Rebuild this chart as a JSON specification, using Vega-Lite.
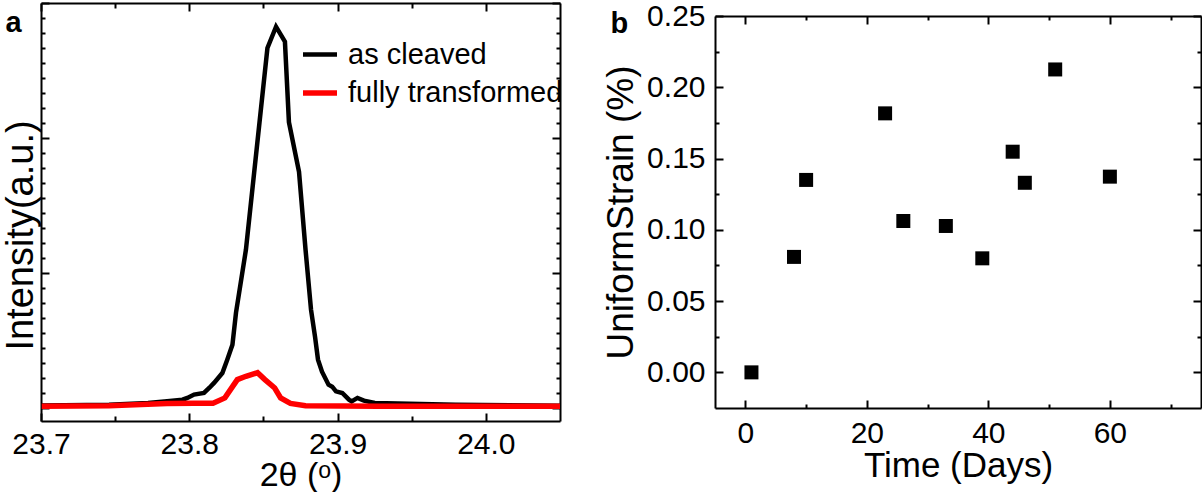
{
  "$schema": "https://vega.github.io/schema/vega-lite/v6.json",
  "padding": {"left": 2, "top": 1, "right": 0, "bottom": 0},
  "autosize": {"type": "pad"},
  "background": "white",
  "config": {
    "view": {"stroke": null},
    "font": "Liberation Sans",
    "concat": {"spacing": 39},
    "axis": {
      "domainColor": "black", "domainWidth": 2, "tickColor": "black", "tickWidth": 2,
      "labelColor": "black", "titleColor": "black", "labelFont": "Liberation Sans", "titleFont": "Liberation Sans",
      "titleFontWeight": "normal", "grid": false, "labelFlush": false, "labelOverlap": false, "labelBound": false
    }
  },
  "datasets": {
    "xrd": [
      {"theta": 23.7005, "intensity": 17, "sample": "as cleaved"},
      {"theta": 23.7459, "intensity": 22, "sample": "as cleaved"},
      {"theta": 23.7722, "intensity": 33, "sample": "as cleaved"},
      {"theta": 23.785, "intensity": 44, "sample": "as cleaved"},
      {"theta": 23.7954, "intensity": 55, "sample": "as cleaved"},
      {"theta": 23.7987, "intensity": 67, "sample": "as cleaved"},
      {"theta": 23.8032, "intensity": 89, "sample": "as cleaved"},
      {"theta": 23.8099, "intensity": 100, "sample": "as cleaved"},
      {"theta": 23.8136, "intensity": 135, "sample": "as cleaved"},
      {"theta": 23.8167, "intensity": 167, "sample": "as cleaved"},
      {"theta": 23.8223, "intensity": 233, "sample": "as cleaved"},
      {"theta": 23.8256, "intensity": 322, "sample": "as cleaved"},
      {"theta": 23.8291, "intensity": 422, "sample": "as cleaved"},
      {"theta": 23.8315, "intensity": 635, "sample": "as cleaved"},
      {"theta": 23.8382, "intensity": 1055, "sample": "as cleaved"},
      {"theta": 23.8527, "intensity": 2400, "sample": "as cleaved"},
      {"theta": 23.8585, "intensity": 2542, "sample": "as cleaved"},
      {"theta": 23.8645, "intensity": 2442, "sample": "as cleaved"},
      {"theta": 23.8672, "intensity": 1905, "sample": "as cleaved"},
      {"theta": 23.874, "intensity": 1575, "sample": "as cleaved"},
      {"theta": 23.8784, "intensity": 1055, "sample": "as cleaved"},
      {"theta": 23.8821, "intensity": 655, "sample": "as cleaved"},
      {"theta": 23.8848, "intensity": 475, "sample": "as cleaved"},
      {"theta": 23.8868, "intensity": 322, "sample": "as cleaved"},
      {"theta": 23.8895, "intensity": 242, "sample": "as cleaved"},
      {"theta": 23.8939, "intensity": 155, "sample": "as cleaved"},
      {"theta": 23.8964, "intensity": 142, "sample": "as cleaved"},
      {"theta": 23.8989, "intensity": 111, "sample": "as cleaved"},
      {"theta": 23.9032, "intensity": 100, "sample": "as cleaved"},
      {"theta": 23.9077, "intensity": 55, "sample": "as cleaved"},
      {"theta": 23.9095, "intensity": 44, "sample": "as cleaved"},
      {"theta": 23.9134, "intensity": 67, "sample": "as cleaved"},
      {"theta": 23.9178, "intensity": 49, "sample": "as cleaved"},
      {"theta": 23.9251, "intensity": 33, "sample": "as cleaved"},
      {"theta": 23.9406, "intensity": 29, "sample": "as cleaved"},
      {"theta": 23.9795, "intensity": 22, "sample": "as cleaved"},
      {"theta": 24.05, "intensity": 15, "sample": "as cleaved"},
      {"theta": 23.7005, "intensity": 11, "sample": "fully transformed"},
      {"theta": 23.7459, "intensity": 15, "sample": "fully transformed"},
      {"theta": 23.785, "intensity": 29, "sample": "fully transformed"},
      {"theta": 23.8032, "intensity": 32, "sample": "fully transformed"},
      {"theta": 23.816, "intensity": 32, "sample": "fully transformed"},
      {"theta": 23.824, "intensity": 67, "sample": "fully transformed"},
      {"theta": 23.8324, "intensity": 189, "sample": "fully transformed"},
      {"theta": 23.8382, "intensity": 211, "sample": "fully transformed"},
      {"theta": 23.846, "intensity": 235, "sample": "fully transformed"},
      {"theta": 23.851, "intensity": 189, "sample": "fully transformed"},
      {"theta": 23.8576, "intensity": 133, "sample": "fully transformed"},
      {"theta": 23.8616, "intensity": 67, "sample": "fully transformed"},
      {"theta": 23.8682, "intensity": 30, "sample": "fully transformed"},
      {"theta": 23.8784, "intensity": 15, "sample": "fully transformed"},
      {"theta": 23.9277, "intensity": 11, "sample": "fully transformed"},
      {"theta": 24.05, "intensity": 11, "sample": "fully transformed"}
    ],
    "strain": [
      {"days": 1, "strain": 0.0},
      {"days": 8, "strain": 0.081},
      {"days": 10, "strain": 0.135},
      {"days": 23, "strain": 0.1817},
      {"days": 26, "strain": 0.1062},
      {"days": 33, "strain": 0.1027},
      {"days": 39, "strain": 0.08},
      {"days": 44, "strain": 0.1548},
      {"days": 46, "strain": 0.133},
      {"days": 51, "strain": 0.2125},
      {"days": 60, "strain": 0.1373}
    ],
    "spacer": [{"k": 0}]
  },
  "columns": 2,
  "align": "none",
  "concat": [
    {
      "width": 519,
      "height": 418,
      "data": {"name": "xrd"},
      "layer": [
        {
          "mark": {"type": "line", "clip": true},
          "encoding": {
            "x": {"field": "theta", "type": "quantitative",
              "scale": {"domain": [23.7, 24.05], "nice": false, "zero": false},
              "axis": {"orient": "bottom", "values": [23.7, 23.8, 23.9, 24.0], "format": ".1f", "tickSize": -8,
                "labelFontSize": 30, "labelPadding": 16, "title": "2θ (ᵒ)", "titleFontSize": 34, "titlePadding": -1}},
            "y": {"field": "intensity", "type": "quantitative",
              "scale": {"domain": [-87, 2700], "nice": false, "zero": false},
              "axis": {"orient": "left", "values": [0, 900, 1800, 2700], "labels": false, "tickSize": -8,
                "title": "Intensity(a.u.)", "titleFontSize": 38, "titlePadding": 0, "titleY": 232}},
            "color": {"field": "sample", "type": "nominal",
              "scale": {"domain": ["as cleaved", "fully transformed"], "range": ["#000000", "#ff0000"]},
              "legend": {"orient": "none", "legendX": 259, "legendY": 32, "title": null, "padding": 0,
                "symbolType": "stroke", "symbolSize": 1156, "symbolStrokeWidth": 5.5, "labelFontSize": 29,
                "labelOffset": 8, "rowPadding": 3, "labelColor": "black", "labelFont": "Liberation Sans", "labelLimit": 0}},
            "strokeWidth": {"field": "sample", "type": "nominal",
              "scale": {"domain": ["as cleaved", "fully transformed"], "range": [4.5, 5.5]}, "legend": null}
          }
        },
        {
          "mark": {"type": "point", "opacity": 0},
          "encoding": {
            "x": {"field": "theta", "type": "quantitative",
              "axis": {"orient": "bottom", "values": [23.75, 23.85, 23.95], "labels": false, "tickSize": -5, "title": null, "domain": false}},
            "y": {"field": "intensity", "type": "quantitative",
              "axis": {"orient": "left", "values": [100,200,300,400,500,600,700,800,1000,1100,1200,1300,1400,1500,1600,1700,1900,2000,2100,2200,2300,2400,2500,2600],
                "labels": false, "tickSize": -4, "title": null, "domain": false}}
          }
        },
        {
          "mark": {"type": "point", "opacity": 0},
          "encoding": {
            "x": {"field": "theta", "type": "quantitative",
              "axis": {"orient": "top", "values": [23.7, 23.8, 23.9, 24.0], "labels": false, "tickSize": -8,
                "title": "a", "titleX": -36, "titleY": 28, "titleAngle": 0, "titleAlign": "left", "titleBaseline": "alphabetic",
                "titleFontSize": 29, "titleFontWeight": "bold"}},
            "y": {"field": "intensity", "type": "quantitative",
              "axis": {"orient": "right", "values": [0, 900, 1800, 2700], "labels": false, "tickSize": -8, "title": null}}
          }
        },
        {
          "mark": {"type": "point", "opacity": 0},
          "encoding": {
            "x": {"field": "theta", "type": "quantitative",
              "axis": {"orient": "top", "values": [23.75, 23.85, 23.95], "labels": false, "tickSize": -5, "title": null, "domain": false}},
            "y": {"field": "intensity", "type": "quantitative",
              "axis": {"orient": "right", "values": [100,200,300,400,500,600,700,800,1000,1100,1200,1300,1400,1500,1600,1700,1900,2000,2100,2200,2300,2400,2500,2600],
                "labels": false, "tickSize": -4, "title": null, "domain": false}}
          }
        }
      ],
      "resolve": {"axis": {"x": "independent", "y": "independent"}}
    },
    {
      "spacing": -3,
      "vconcat": [
        {
          "width": 486,
          "height": 1,
          "data": {"name": "spacer"},
          "mark": {"type": "point", "opacity": 0, "size": 0, "strokeWidth": 0},
          "encoding": {}
        },
        {
          "width": 486,
          "height": 392,
          "data": {"name": "strain"},
          "layer": [
            {
              "mark": {"type": "square", "size": 196, "color": "black", "opacity": 1},
              "encoding": {
                "x": {"field": "days", "type": "quantitative",
                  "scale": {"domain": [-5, 75], "nice": false, "zero": false},
                  "axis": {"orient": "bottom", "values": [0, 20, 40, 60], "tickSize": -8, "labelFontSize": 30, "labelPadding": 18,
                    "title": "Time (Days)", "titleFontSize": 35, "titlePadding": 0}},
                "y": {"field": "strain", "type": "quantitative",
                  "scale": {"domain": [-0.025, 0.25], "nice": false, "zero": false},
                  "axis": {"orient": "left", "values": [0, 0.05, 0.1, 0.15, 0.2, 0.25], "format": ".2f", "tickSize": -8,
                    "labelFontSize": 30, "labelPadding": 18, "title": "UniformStrain (%)", "titleFontSize": 37, "titlePadding": 6}}
              }
            },
            {
              "mark": {"type": "point", "opacity": 0},
              "encoding": {
                "x": {"field": "days", "type": "quantitative",
                  "axis": {"orient": "bottom", "values": [10, 30, 50, 70], "labels": false, "tickSize": -4, "title": null, "domain": false}},
                "y": {"field": "strain", "type": "quantitative",
                  "axis": {"orient": "left", "values": [0.025, 0.075, 0.125, 0.175, 0.225], "labels": false, "tickSize": -4, "title": null, "domain": false}}
              }
            },
            {
              "mark": {"type": "point", "opacity": 0},
              "encoding": {
                "x": {"field": "days", "type": "quantitative",
                  "axis": {"orient": "top", "values": [0, 20, 40, 60], "labels": false, "tickSize": -8,
                    "title": "b", "titleX": -105, "titleY": 16, "titleAngle": 0, "titleAlign": "left", "titleBaseline": "alphabetic",
                    "titleFontSize": 29, "titleFontWeight": "bold"}},
                "y": {"field": "strain", "type": "quantitative",
                  "axis": {"orient": "right", "values": [0, 0.05, 0.1, 0.15, 0.2, 0.25], "labels": false, "tickSize": -8, "title": null}}
              }
            },
            {
              "mark": {"type": "point", "opacity": 0},
              "encoding": {
                "x": {"field": "days", "type": "quantitative",
                  "axis": {"orient": "top", "values": [10, 30, 50, 70], "labels": false, "tickSize": -4, "title": null, "domain": false}},
                "y": {"field": "strain", "type": "quantitative",
                  "axis": {"orient": "right", "values": [0.025, 0.075, 0.125, 0.175, 0.225], "labels": false, "tickSize": -4, "title": null, "domain": false}}
              }
            }
          ],
          "resolve": {"axis": {"x": "independent", "y": "independent"}}
        }
      ]
    }
  ]
}
